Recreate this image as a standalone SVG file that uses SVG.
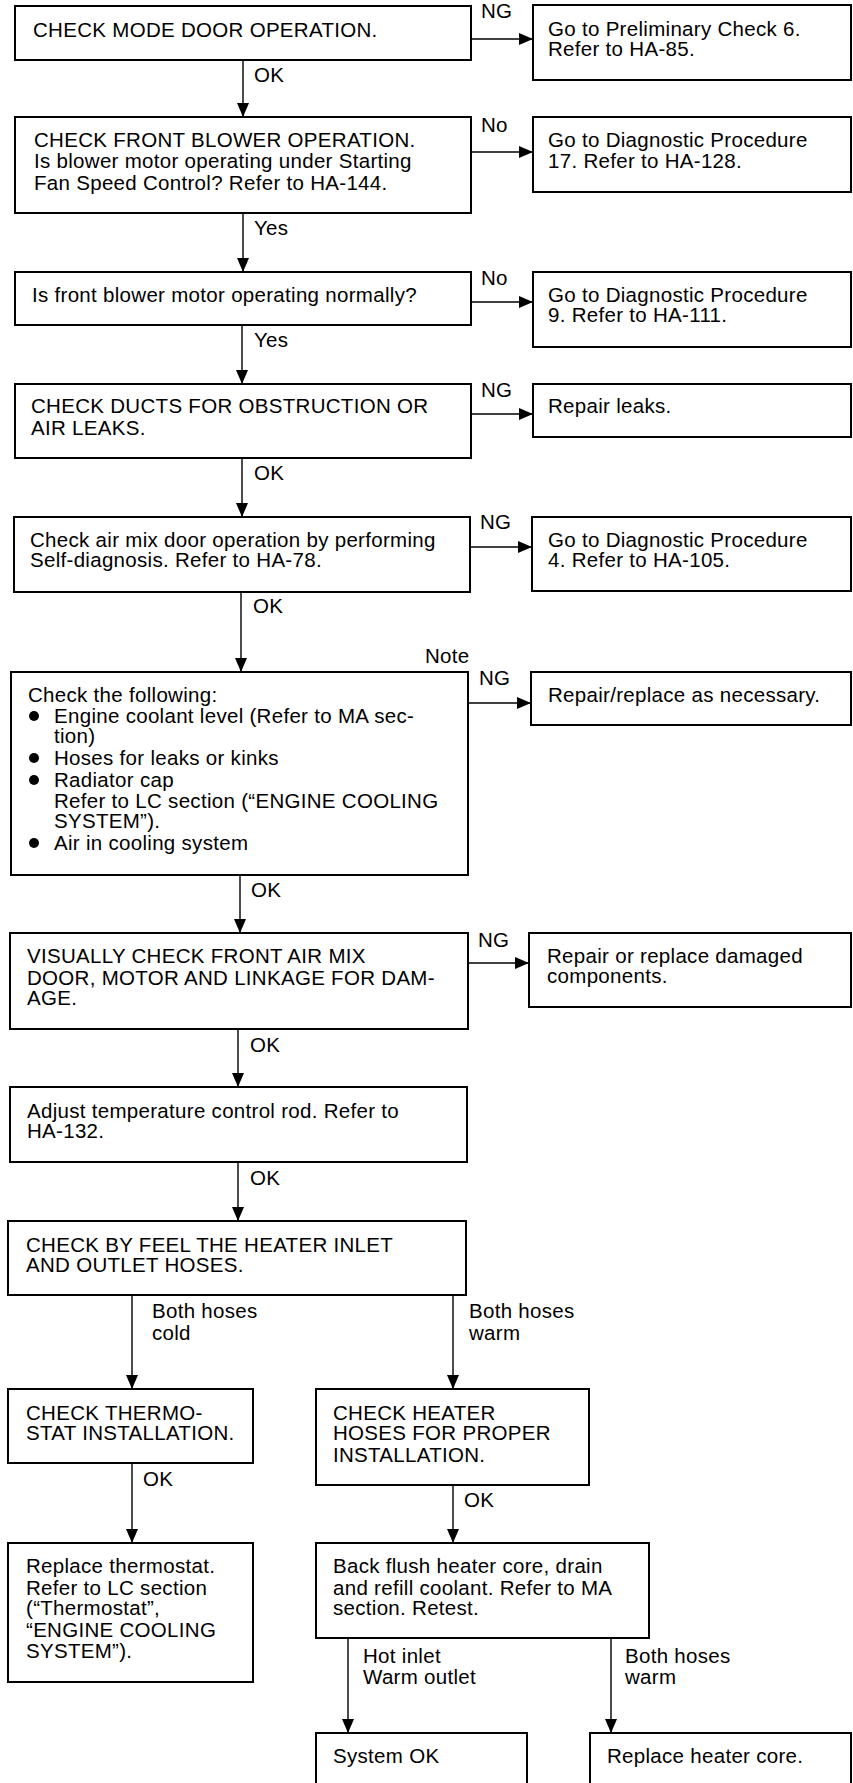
<svg xmlns="http://www.w3.org/2000/svg" width="853" height="1783" viewBox="0 0 853 1783">
<style>
.box{fill:#fff;stroke:#000;stroke-width:2}
.t{font-family:"Liberation Sans",Arial,Helvetica,sans-serif;font-size:20.5px;letter-spacing:0.3px;fill:#000}
.c{stroke:#000;stroke-width:1.4;fill:none;marker-end:url(#ah)}
</style>
<defs>
<marker id="ah" markerUnits="userSpaceOnUse" markerWidth="14" markerHeight="12" refX="14" refY="6" orient="auto">
<path d="M0,0 L14,6 L0,12 z" fill="#000"/>
</marker>
</defs>
<rect width="853" height="1783" fill="#fff"/>

<g id="connectors">
<line class="c" x1="471" y1="39" x2="533" y2="39"/>
<line class="c" x1="471" y1="152" x2="533" y2="152"/>
<line class="c" x1="471" y1="302" x2="533" y2="302"/>
<line class="c" x1="471" y1="414" x2="533" y2="414"/>
<line class="c" x1="470" y1="547" x2="532" y2="547"/>
<line class="c" x1="468" y1="703" x2="531" y2="703"/>
<line class="c" x1="468" y1="963" x2="529" y2="963"/>
<line class="c" x1="243" y1="60" x2="243" y2="117"/>
<line class="c" x1="243" y1="213" x2="243" y2="272"/>
<line class="c" x1="242" y1="325" x2="242" y2="384"/>
<line class="c" x1="242" y1="458" x2="242" y2="517"/>
<line class="c" x1="241" y1="592" x2="241" y2="672"/>
<line class="c" x1="240" y1="875" x2="240" y2="933"/>
<line class="c" x1="238" y1="1029" x2="238" y2="1087"/>
<line class="c" x1="238" y1="1162" x2="238" y2="1221"/>
<line class="c" x1="132" y1="1295" x2="132" y2="1389"/>
<line class="c" x1="453" y1="1295" x2="453" y2="1389"/>
<line class="c" x1="132" y1="1463" x2="132" y2="1543"/>
<line class="c" x1="453" y1="1485" x2="453" y2="1543"/>
<line class="c" x1="348" y1="1638" x2="348" y2="1733"/>
<line class="c" x1="611" y1="1638" x2="611" y2="1733"/>
<text class="t" x="481" y="18">NG</text>
<text class="t" x="481" y="132">No</text>
<text class="t" x="481" y="285">No</text>
<text class="t" x="481" y="397">NG</text>
<text class="t" x="480" y="529">NG</text>
<text class="t" x="425" y="663">Note</text>
<text class="t" x="479" y="685">NG</text>
<text class="t" x="478" y="947">NG</text>
<text class="t" x="254" y="82">OK</text>
<text class="t" x="254" y="235">Yes</text>
<text class="t" x="254" y="347">Yes</text>
<text class="t" x="254" y="480">OK</text>
<text class="t" x="253" y="613">OK</text>
<text class="t" x="251" y="897">OK</text>
<text class="t" x="250" y="1052">OK</text>
<text class="t" x="250" y="1185">OK</text>
<text class="t" x="152" y="1318">Both hoses</text>
<text class="t" x="152" y="1340">cold</text>
<text class="t" x="469" y="1318">Both hoses</text>
<text class="t" x="469" y="1340">warm</text>
<text class="t" x="143" y="1486">OK</text>
<text class="t" x="464" y="1507">OK</text>
<text class="t" x="363" y="1663">Hot inlet</text>
<text class="t" x="363" y="1684">Warm outlet</text>
<text class="t" x="625" y="1663">Both hoses</text>
<text class="t" x="625" y="1684">warm</text>
</g>

<g id="n1"><rect class="box" x="15" y="6" width="456" height="54"/>
<text class="t" x="33" y="37">CHECK MODE DOOR OPERATION.</text></g>
<g id="n1ng"><rect class="box" x="533" y="5" width="318" height="75"/>
<text class="t" x="548" y="36">Go to Preliminary Check 6.</text>
<text class="t" x="548" y="56">Refer to HA-85.</text></g>

<g id="n2"><rect class="box" x="15" y="117" width="456" height="96"/>
<text class="t" x="34" y="147">CHECK FRONT BLOWER OPERATION.</text>
<text class="t" x="34" y="168">Is blower motor operating under Starting</text>
<text class="t" x="34" y="190">Fan Speed Control? Refer to HA-144.</text></g>
<g id="n2no"><rect class="box" x="533" y="117" width="318" height="75"/>
<text class="t" x="548" y="147">Go to Diagnostic Procedure</text>
<text class="t" x="548" y="168">17. Refer to HA-128.</text></g>

<g id="n3"><rect class="box" x="15" y="272" width="456" height="53"/>
<text class="t" x="32" y="302">Is front blower motor operating normally?</text></g>
<g id="n3no"><rect class="box" x="533" y="272" width="318" height="75"/>
<text class="t" x="548" y="302">Go to Diagnostic Procedure</text>
<text class="t" x="548" y="322">9. Refer to HA-111.</text></g>

<g id="n4"><rect class="box" x="15" y="384" width="456" height="74"/>
<text class="t" x="31" y="413">CHECK DUCTS FOR OBSTRUCTION OR</text>
<text class="t" x="31" y="435">AIR LEAKS.</text></g>
<g id="n4ng"><rect class="box" x="533" y="384" width="318" height="53"/>
<text class="t" x="548" y="413">Repair leaks.</text></g>

<g id="n5"><rect class="box" x="14" y="517" width="456" height="75"/>
<text class="t" x="30" y="547">Check air mix door operation by performing</text>
<text class="t" x="30" y="567">Self-diagnosis. Refer to HA-78.</text></g>
<g id="n5ng"><rect class="box" x="532" y="517" width="319" height="74"/>
<text class="t" x="548" y="547">Go to Diagnostic Procedure</text>
<text class="t" x="548" y="567">4. Refer to HA-105.</text></g>

<g id="n6"><rect class="box" x="11" y="672" width="457" height="203"/>
<text class="t" x="28" y="702">Check the following:</text>
<circle cx="34" cy="716" r="5"/>
<text class="t" x="54" y="723">Engine coolant level (Refer to MA sec-</text>
<text class="t" x="54" y="743">tion)</text>
<circle cx="34" cy="758" r="5"/>
<text class="t" x="54" y="765">Hoses for leaks or kinks</text>
<circle cx="34" cy="780" r="5"/>
<text class="t" x="54" y="787">Radiator cap</text>
<text class="t" x="54" y="808">Refer to LC section (“ENGINE COOLING</text>
<text class="t" x="54" y="828">SYSTEM”).</text>
<circle cx="34" cy="843" r="5"/>
<text class="t" x="54" y="850">Air in cooling system</text></g>
<g id="n6ng"><rect class="box" x="531" y="672" width="320" height="53"/>
<text class="t" x="548" y="702">Repair/replace as necessary.</text></g>

<g id="n7"><rect class="box" x="10" y="933" width="458" height="96"/>
<text class="t" x="27" y="963">VISUALLY CHECK FRONT AIR MIX</text>
<text class="t" x="27" y="985">DOOR, MOTOR AND LINKAGE FOR DAM-</text>
<text class="t" x="27" y="1005">AGE.</text></g>
<g id="n7ng"><rect class="box" x="529" y="933" width="322" height="74"/>
<text class="t" x="547" y="963">Repair or replace damaged</text>
<text class="t" x="547" y="983">components.</text></g>

<g id="n8"><rect class="box" x="10" y="1087" width="457" height="75"/>
<text class="t" x="27" y="1118">Adjust temperature control rod. Refer to</text>
<text class="t" x="27" y="1138">HA-132.</text></g>

<g id="n9"><rect class="box" x="8" y="1221" width="458" height="74"/>
<text class="t" x="26" y="1252">CHECK BY FEEL THE HEATER INLET</text>
<text class="t" x="26" y="1272">AND OUTLET HOSES.</text></g>

<g id="n10"><rect class="box" x="8" y="1389" width="245" height="74"/>
<text class="t" x="26" y="1420">CHECK THERMO-</text>
<text class="t" x="26" y="1440">STAT INSTALLATION.</text></g>

<g id="n11"><rect class="box" x="316" y="1389" width="273" height="96"/>
<text class="t" x="333" y="1420">CHECK HEATER</text>
<text class="t" x="333" y="1440">HOSES FOR PROPER</text>
<text class="t" x="333" y="1462">INSTALLATION.</text></g>

<g id="n12"><rect class="box" x="8" y="1543" width="245" height="139"/>
<text class="t" x="26" y="1573">Replace thermostat.</text>
<text class="t" x="26" y="1595">Refer to LC section</text>
<text class="t" x="26" y="1615">(“Thermostat”,</text>
<text class="t" x="26" y="1637">“ENGINE COOLING</text>
<text class="t" x="26" y="1658">SYSTEM”).</text></g>

<g id="n13"><rect class="box" x="316" y="1543" width="333" height="95"/>
<text class="t" x="333" y="1573">Back flush heater core, drain</text>
<text class="t" x="333" y="1595">and refill coolant. Refer to MA</text>
<text class="t" x="333" y="1615">section. Retest.</text></g>

<g id="n14"><rect class="box" x="316" y="1733" width="211" height="80"/>
<text class="t" x="333" y="1763">System OK</text></g>

<g id="n15"><rect class="box" x="590" y="1733" width="261" height="80"/>
<text class="t" x="607" y="1763">Replace heater core.</text></g>
</svg>
